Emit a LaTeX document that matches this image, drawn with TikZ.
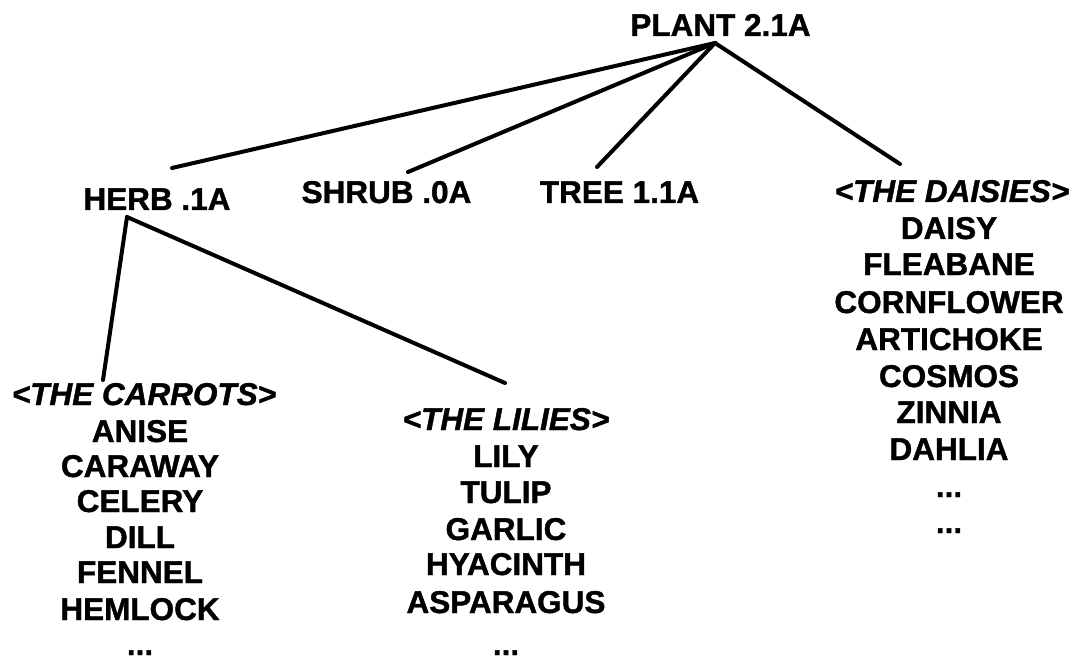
\documentclass[tikz,border=0pt]{standalone}
\usepackage{fontspec}
\setmainfont{Liberation Sans}[BoldFeatures={FakeBold=1.3},BoldItalicFeatures={FakeBold=1.3}]
\newcommand\mydots{.\kern0pt.\kern0pt.}
\begin{document}
\begin{tikzpicture}[x=1pt,y=-1pt,
  lbl/.style={anchor=base,inner sep=0pt,font=\bfseries\fontsize{31.5}{36}\selectfont},
  hdr/.style={lbl,font=\bfseries\itshape\fontsize{31.5}{36}\selectfont},
  edge/.style={line width=4pt,line cap=round,line join=round}]
\useasboundingbox (0,0) rectangle (1076,671);
% top level
\node[lbl] (plant) at (720.5,36) {PLANT 2.1A};
\node[lbl] (herb)  at (157,210) {HERB .1A};
\node[lbl] (shrub) at (386.5,203) {SHRUB .0A};
\node[lbl] (tree)  at (619.5,203) {TREE 1.1A};
% groups
\node[hdr] (carrots) at (144,405) {<THE CARROTS>};
\node[hdr] (lilies)  at (506,430) {<THE LILIES>};
\node[hdr] (daisies) at (952,202) {<THE DAISIES>};
% carrot list
\foreach \t/\y [count=\i] in {ANISE/442,CARAWAY/477,CELERY/512,DILL/548,FENNEL/583,HEMLOCK/620,\mydots/655}
  \node[lbl] (c\i) at (140,\y) {\t};
% lily list
\foreach \t/\y [count=\i] in {LILY/467,TULIP/503,GARLIC/540,HYACINTH/575,ASPARAGUS/613,\mydots/655}
  \node[lbl] (l\i) at (506,\y) {\t};
% daisy list
\foreach \t/\y [count=\i] in {DAISY/239,FLEABANE/275,CORNFLOWER/313,ARTICHOKE/350,COSMOS/387,ZINNIA/423,DAHLIA/460,\mydots/497,\mydots/533}
  \node[lbl] (d\i) at (949,\y) {\t};
% connector points
\coordinate (plantjoin) at (715,43);
\coordinate (herbtip) at (172,168);
\coordinate (shrubtip) at (408,172);
\coordinate (treetip) at (597,167);
\coordinate (daisiestip) at (900,164);
\coordinate (herbjoin) at (127,217);
\coordinate (carrotstip) at (103,380);
\coordinate (liliestip) at (505,383);
\draw[edge] (plantjoin) -- (herbtip);
\draw[edge] (plantjoin) -- (shrubtip);
\draw[edge] (plantjoin) -- (treetip);
\draw[edge] (plantjoin) -- (daisiestip);
\draw[edge] (herbjoin) -- (carrotstip);
\draw[edge] (herbjoin) -- (liliestip);
\end{tikzpicture}
\end{document}
